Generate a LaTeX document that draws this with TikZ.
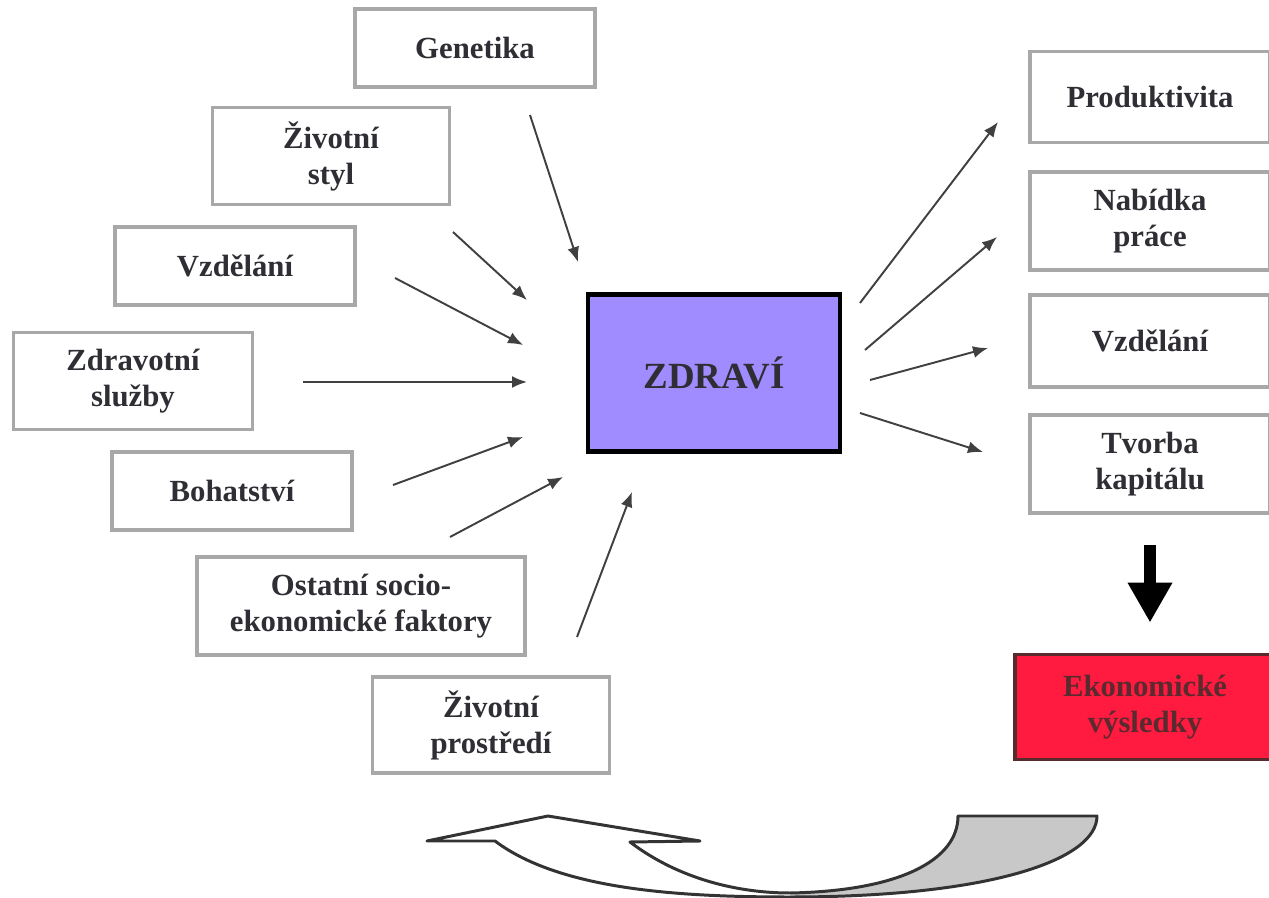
\documentclass[tikz,border=0pt]{standalone}
\usepackage{fontspec}
\setmainfont{Liberation Serif}
\usetikzlibrary{arrows.meta}
\definecolor{boxgray}{HTML}{A8A8A8}
\definecolor{txtdark}{HTML}{2E2E34}
\definecolor{healthfill}{HTML}{A08CFF}
\definecolor{econfill}{HTML}{FF1A40}
\definecolor{econline}{HTML}{5A2A2E}
\definecolor{bandgray}{HTML}{C8C8C8}

\begin{document}
\begin{tikzpicture}[x=0.02cm, y=-0.02cm,
  factor/.style={draw=boxgray, line width=2.2pt, fill=white, align=center, text=txtdark,
    font=\fontsize{17.5}{20.5}\selectfont\bfseries, minimum width=4.8cm, minimum height=1.56cm},
  health/.style={draw=black, line width=2.8pt, fill=healthfill, text=txtdark,
    font=\fontsize{21}{24}\selectfont\bfseries, minimum width=5.04cm, minimum height=3.14cm},
  econ/.style={draw=econline, line width=2.2pt, fill=econfill, align=center, text=econline,
    font=\fontsize{17.5}{20.5}\selectfont\bfseries, minimum width=5.2cm, minimum height=2.1cm},
  influence/.style={draw=black!75, line width=1.1pt, -{Latex[length=3mm,width=2.4mm]}},
  bigdown/.style={line width=7pt, -{Triangle[length=8mm,width=8.4mm]}}]
  \useasboundingbox (0,0) rectangle (1269,898);
  \clip (0,0) rectangle (1269,898);

  % determinants of health
  \node[factor] (gen) at (475,48) {Genetika};
  \node[factor, minimum width=4.74cm, minimum height=1.94cm] (styl) at (331,156) {Životní\\styl};
  \node[factor] (vzdL) at (235,266) {Vzdělání};
  \node[factor, minimum width=4.78cm, minimum height=1.94cm] (sluzby) at (133,381) {Zdravotní\\služby};
  \node[factor] (boh) at (232,491) {Bohatství};
  \node[factor, minimum width=6.56cm, minimum height=1.96cm] (ost) at (361,606) {Ostatní socio-\\ekonomické faktory};
  \node[factor, minimum width=4.74cm, minimum height=1.92cm] (prost) at (491,725) {Životní\\prostředí};

  \node[health] (zdravi) at (714,373) {ZDRAVÍ};

  % effects
  \node[factor, minimum height=1.82cm] (prod) at (1150,97) {Produktivita};
  \node[factor, minimum height=1.96cm] (nab) at (1150,221) {Nabídka\\práce};
  \node[factor, minimum height=1.84cm] (vzdR) at (1150,341) {Vzdělání};
  \node[factor, minimum height=1.96cm] (tvor) at (1150,464) {Tvorba\\kapitálu};
  \node[econ] (ekon) at (1145,707) {Ekonomické\\výsledky};

  \foreach \i/\xa/\ya/\xb/\yb in {1/530/115/578/262, 2/453/232/527/300, 3/395/278/523/345,
      4/303/382/527/382, 5/393/485/523/437, 6/450/537/563/477, 7/577/637/632/492,
      8/860/303/998/122, 9/865/350/997/237, 10/870/380/988/348, 11/860/413/983/452}{
    \coordinate (s\i) at (\xa,\ya);
    \coordinate (e\i) at (\xb,\yb);
    \draw[influence] (s\i) -- (e\i);
  }

  \draw[bigdown, shorten <=0.6cm, shorten >=0.6cm] (tvor.south) -- (tvor.south |- ekon.north);

  % feedback arrow
  \fill[bandgray] (790,893) .. controls (900,891) and (958,860) .. (958,816) -- (1097,816)
    .. controls (1097,860) and (990,897) .. (790,897) -- cycle;
  \draw[black!80, line width=1.7pt, line join=round] (495,841)
    .. controls (560,890) and (680,897) .. (790,897)
    .. controls (990,897) and (1097,860) .. (1097,816) -- (958,816)
    .. controls (958,860) and (900,891) .. (790,893)
    .. controls (740,893) and (680,880) .. (630,842)
    -- (700,841) -- (548,816) -- (427,841) -- cycle;
\end{tikzpicture}
\end{document}
